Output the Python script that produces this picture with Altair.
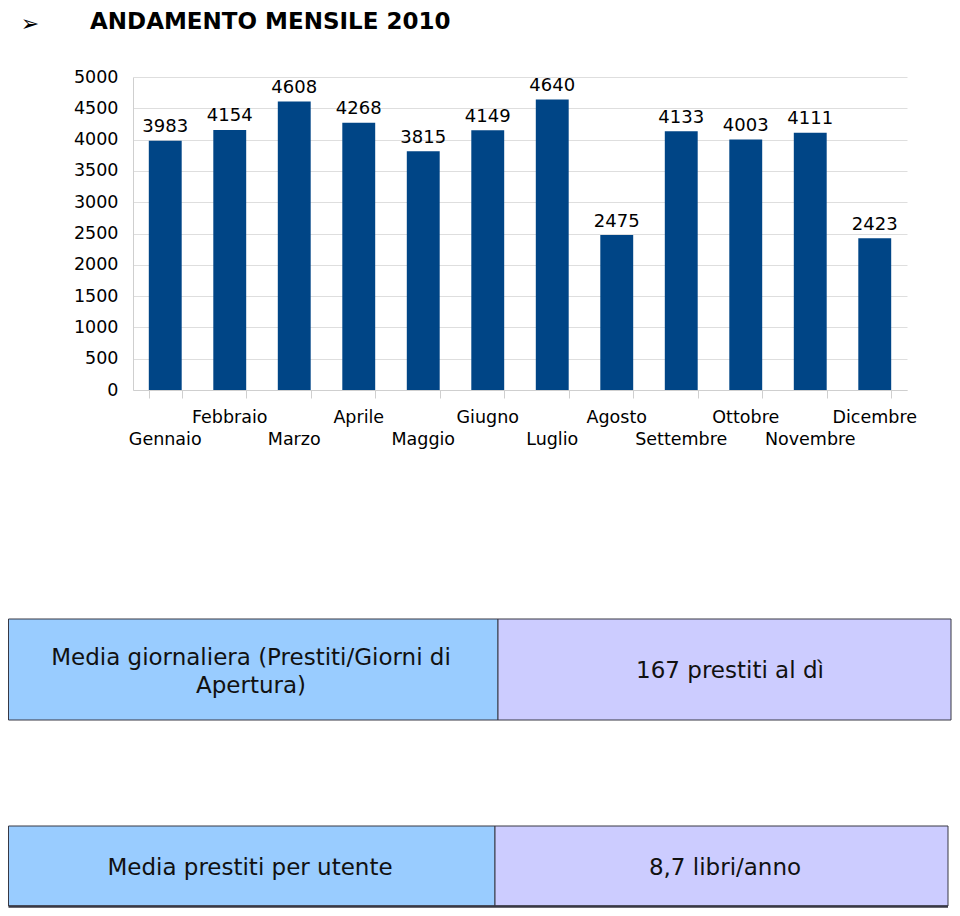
import altair as alt
import pandas as pd

TITLE = ["ANDAMENTO MENSILE 2010"]
BULLET = ["➢"]
MONTHS = ["Gennaio", "Febbraio", "Marzo", "Aprile", "Maggio", "Giugno",
          "Luglio", "Agosto", "Settembre", "Ottobre", "Novembre", "Dicembre"]
PRESTITI = [3983, 4154, 4608, 4268, 3815, 4149, 4640, 2475, 4133, 4003, 4111, 2423]
Y_TICKS = [0, 500, 1000, 1500, 2000, 2500, 3000, 3500, 4000, 4500, 5000]
STAT_LABELS = ["Media giornaliera (Prestiti/Giorni di\nApertura)", "Media prestiti per utente"]
STAT_VALUES = ["167 prestiti al dì", "8,7 libri/anno"]

FONT = "DejaVu Sans"
BAR_COLOR = "#004586"
GRID = "#dedede"
LEFT_FILL = "#99ccff"
RIGHT_FILL = "#ccccff"
BORDER = "#383844"

df = pd.DataFrame({
    "mese": MONTHS,
    "prestiti": PRESTITI,
    "riga": ["basso" if i % 2 == 0 else "alto" for i in range(len(MONTHS))],
})

x_enc = alt.X(
    "mese:N", sort=MONTHS, title=None,
    scale=alt.Scale(range=[125, 899], paddingInner=0.49, paddingOuter=0.245),
    axis=alt.Axis(labels=False, grid=False, domain=True, domainColor="#cfcfcf",
                  ticks=True, tickBand="extent", tickSize=8, tickColor="#cfcfcf",
                  offset=-518),
)
y_enc = alt.Y(
    "prestiti:Q", title=None,
    scale=alt.Scale(domain=[0, 5000], range=[382, 69], nice=False),
    axis=alt.Axis(values=Y_TICKS, format="d", grid=True, gridColor=GRID,
                  ticks=False, labelPadding=15, labelFont=FONT, labelFontSize=17.5,
                  labelColor="#000000", domain=True, domainColor="#cfcfcf",
                  offset=-125),
)

base = alt.Chart(df)
bars = base.mark_bar(color=BAR_COLOR).encode(x=x_enc, y=y_enc)
values = base.mark_text(font=FONT, fontSize=18, baseline="alphabetic", dy=-8.5,
                        color="#000000").encode(x=x_enc, y=y_enc, text="prestiti:Q")
lab_hi = base.transform_filter(alt.datum.riga == "alto").mark_text(
    font=FONT, fontSize=17.5, baseline="alphabetic", color="#000000"
).encode(x=x_enc, y=alt.value(415), text="mese:N")
lab_lo = base.transform_filter(alt.datum.riga == "basso").mark_text(
    font=FONT, fontSize=17.5, baseline="alphabetic", color="#000000"
).encode(x=x_enc, y=alt.value(437), text="mese:N")

title = alt.Chart(pd.DataFrame({"t": TITLE})).mark_text(
    font=FONT, fontSize=23, fontWeight="bold", align="left", baseline="alphabetic",
    color="#000000"
).encode(x=alt.value(82), y=alt.value(21), text="t:N")
bullet = alt.Chart(pd.DataFrame({"t": BULLET})).mark_text(
    font=FONT, fontSize=22, align="center", baseline="alphabetic", color="#000000"
).encode(x=alt.value(22), y=alt.value(23), text="t:N")


def cell(txt, fill, x0, x1, y0, y1, tx, ty):
    d = pd.DataFrame({"t": [txt]})
    r = alt.Chart(d).mark_rect(fill=fill, stroke=BORDER, strokeWidth=1).encode(
        x=alt.value(x0), x2=alt.value(x1), y=alt.value(y0), y2=alt.value(y1))
    t = alt.Chart(d).mark_text(font=FONT, fontSize=23, align="center", baseline="middle",
                               lineBreak="\n", lineHeight=28, color="#111111").encode(
        x=alt.value(tx), y=alt.value(ty), text="t:N")
    return [r, t]


layers = [bars, values, lab_hi, lab_lo, title, bullet]
layers += cell(STAT_LABELS[0], LEFT_FILL, 0.5, 490, 611, 712, 243, 650)
layers += cell(STAT_VALUES[0], RIGHT_FILL, 490, 943, 611, 712, 722, 663)
layers += cell(STAT_LABELS[1], LEFT_FILL, 0.5, 487, 818, 898, 242, 860)
layers += cell(STAT_VALUES[1], RIGHT_FILL, 487, 940, 818, 898, 717, 860)

bottom_line = alt.Chart(pd.DataFrame({"t": STAT_VALUES[1:]})).mark_rule(
    color=BORDER, strokeWidth=2.5
).encode(x=alt.value(0.5), x2=alt.value(940), y=alt.value(898.5))
layers.append(bottom_line)

chart = alt.layer(*layers).properties(
    width=944, height=900, padding=0,
    autosize=alt.AutoSizeParams(type="none"),
).configure_view(stroke=None)

chart.save("out.html", embed_options={"renderer": "svg", "actions": False})
